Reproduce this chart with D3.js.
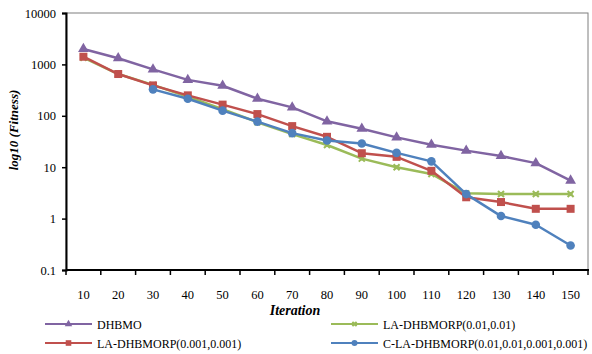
<!DOCTYPE html>
<html>
<head>
<meta charset="utf-8">
<script src="https://cdn.jsdelivr.net/npm/d3@7"></script>
<style>
  body { margin: 0; background: #fff; }
</style>
</head>
<body>
<svg id="chart" width="592" height="354"></svg>
<script>
// data
const iterations = [10, 20, 30, 40, 50, 60, 70, 80, 90, 100, 110, 120, 130, 140, 150];
const dhbmo = [2000, 1320, 800, 500, 385, 215, 146, 78, 56, 38, 27.4, 21, 16.5, 12, 5.5];
const laSmall = [1410, 650, 390, 250, 165, 108, 63, 39, 18.7, 15.9, 8.5, 2.6, 2.1, 1.55, 1.55];
const laBig = [1350, 650, 400, 235, 135, 75, 44, 27, 14.7, 10, 7.4, 3.1, 3.0, 3.0, 3.0];
const cla = [null, null, 327, 215, 126, 77, 46, 33, 29, 19, 13, 3.0, 1.12, 0.76, 0.30];
const yTicks = [0.1, 1, 10, 100, 1000, 10000];

const series = [
  {name: "DHBMO", values: dhbmo, color: "#8064A2", marker: "triangle"},
  {name: "LA-DHBMORP(0.01,0.01)", values: laBig, color: "#9BBB59", marker: "cross"},
  {name: "LA-DHBMORP(0.001,0.001)", values: laSmall, color: "#C0504D", marker: "square"},
  {name: "C-LA-DHBMORP(0.01,0.01,0.001,0.001)", values: cla, color: "#4F81BD", marker: "circle"}
];

const FONT = "Liberation Serif, Times New Roman, serif";

const svg = d3.select("#chart");
const m = {left: 66, right: 588, top: 13, bottom: 270};

const x = d3.scaleBand().domain(iterations).range([m.left, m.right]);
const y = d3.scaleLog().domain([0.1, 10000]).range([m.bottom, m.top]);

//Plot border (gray, top and right)
svg.append("rect")
  .attr("x", m.left).attr("y", m.top)
  .attr("width", m.right - m.left).attr("height", m.bottom - m.top)
  .attr("fill", "none").attr("stroke", "#7f7f7f").attr("stroke-width", 1);

//Y axis
const yAxis = svg.append("g")
  .attr("transform", `translate(${m.left},0)`)
  .call(d3.axisLeft(y).tickValues(yTicks).tickFormat(d => String(d)).tickSize(4).tickPadding(6));
yAxis.attr("font-family", FONT).attr("font-size", 12.5);
yAxis.select(".domain").attr("stroke", "#000").attr("stroke-width", 2);
yAxis.selectAll(".tick line").attr("stroke", "#000").attr("stroke-width", 1.5);
yAxis.selectAll("text").attr("fill", "#000");

//X axis: ticks at category boundaries, labels at centers
const xg = svg.append("g").attr("transform", `translate(0,${m.bottom})`);
xg.append("line")
  .attr("x1", m.left).attr("x2", m.right + 1)
  .attr("stroke", "#000").attr("stroke-width", 2);
const bounds = iterations.map(d => x(d)).concat([m.right]);
xg.selectAll("line.tick")
  .data(bounds)
  .enter().append("line")
  .classed("tick", true)
  .attr("x1", d => d).attr("x2", d => d)
  .attr("y1", 0).attr("y2", 5)
  .attr("stroke", "#000").attr("stroke-width", 1.5);
xg.selectAll("text")
  .data(iterations)
  .enter().append("text")
  .attr("x", d => x(d) + x.bandwidth() / 2)
  .attr("y", 29)
  .attr("text-anchor", "middle")
  .attr("font-size", 12.5)
  .attr("font-family", FONT)
  .text(d => d);

//Axis titles
svg.append("text")
  .attr("x", 295).attr("y", 315)
  .attr("text-anchor", "middle")
  .attr("font-size", 14).attr("font-weight", "bold").attr("font-style", "italic")
  .attr("font-family", FONT)
  .text("Iteration");

svg.append("text")
  .attr("transform", "translate(18,130) rotate(-90)")
  .attr("text-anchor", "middle")
  .attr("font-size", 13).attr("font-weight", "bold").attr("font-style", "italic")
  .attr("font-family", FONT)
  .text("log10 (Fitness)");

//Marker drawing (k scales for legend)
function drawMarker(g, type, color, k) {
  if (type === "triangle") {
    g.append("path").attr("d", d3.symbol(d3.symbolTriangle, 50 * k * k)()).attr("fill", color);
  } else if (type === "square") {
    g.append("rect").attr("x", -4 * k).attr("y", -4 * k)
      .attr("width", 8 * k).attr("height", 8 * k).attr("fill", color);
  } else if (type === "circle") {
    g.append("circle").attr("r", 4.3 * k).attr("fill", color);
  } else {
    g.append("path").attr("d", `M${-3 * k},${-3 * k}L${3 * k},${3 * k}M${-3 * k},${3 * k}L${3 * k},${-3 * k}`)
      .attr("stroke", color).attr("stroke-width", 2);
    g.append("rect").attr("x", -2 * k).attr("y", -2 * k)
      .attr("width", 4 * k).attr("height", 4 * k).attr("fill", color);
  }
}

const cx = (d, i) => x(iterations[i]) + x.bandwidth() / 2;
const line = d3.line()
  .defined(d => d != null)
  .x((d, i) => cx(d, i))
  .y(d => y(d));

series.forEach(s => {
  const g = svg.append("g");
  g.append("path")
    .datum(s.values)
    .attr("fill", "none")
    .attr("stroke", s.color)
    .attr("stroke-width", 2.5)
    .attr("stroke-linejoin", "round")
    .attr("d", line);
  s.values.forEach((v, i) => {
    if (v == null) return;
    const mg = g.append("g").attr("transform", `translate(${cx(v, i)},${y(v)})`);
    drawMarker(mg, s.marker, s.color, 1);
  });
});

//Legend, 2 columns
const legendPos = [
  {x: 45, y: 324}, {x: 331, y: 324},
  {x: 45, y: 343}, {x: 331, y: 343}
];
series.forEach((s, k) => {
  const p = legendPos[k];
  const g = svg.append("g").attr("transform", `translate(${p.x},${p.y})`);
  g.append("line").attr("x1", 0).attr("x2", 47)
    .attr("stroke", s.color).attr("stroke-width", 2);
  const mg = g.append("g").attr("transform", "translate(23.5,0)");
  drawMarker(mg, s.marker, s.color, 0.7);
  g.append("text").attr("x", 52).attr("y", 4.5)
    .attr("font-size", 12)
    .attr("font-family", FONT)
    .text(s.name);
});
</script>
</body>
</html>
